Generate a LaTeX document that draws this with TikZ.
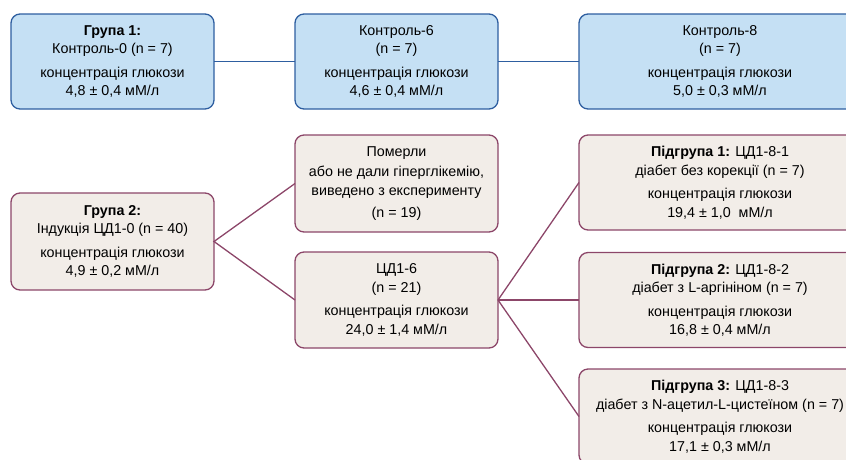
\documentclass[tikz,border=0pt]{standalone}
\usepackage{fontspec}
\setmainfont{Liberation Sans}
\definecolor{bluefill}{RGB}{197,224,244}
\definecolor{blueline}{RGB}{46,94,160}
\definecolor{beigefill}{RGB}{242,237,232}
\definecolor{redline}{RGB}{140,70,105}
\begin{document}
\begin{tikzpicture}[x=1pt,y=-1pt,
  box/.style={draw, rounded corners=9pt, line width=1.3pt, align=center, inner sep=0pt, outer sep=0pt,
    font=\fontsize{14.3}{18.5}\selectfont, minimum height=95pt},
  bluebox/.style={box, draw=blueline, fill=bluefill},
  beigebox/.style={box, draw=redline, fill=beigefill},
  bluelink/.style={line width=1.3pt, draw=blueline},
  redlink/.style={line width=1.3pt, draw=redline}]
\useasboundingbox (0,0) rectangle (846,459);
\clip (0,0) rectangle (846,459);
% row 1
\node[bluebox, minimum width=203pt] (g1) at (112.5,61.5) {\textbf{Група 1:}\\Контроль-0 (n = 7)\\[5pt]концентрація глюкози\\4,8 ± 0,4 мМ/л};
\node[bluebox, minimum width=203pt] (k6) at (396.5,61.5) {Контроль-6\\(n = 7)\\[5pt]концентрація глюкози\\4,6 ± 0,4 мМ/л};
\node[bluebox, minimum width=282pt] (k8) at (720,61.5) {Контроль-8\\(n = 7)\\[5pt]концентрація глюкози\\5,0 ± 0,3 мМ/л};
\draw[bluelink] (g1.east) -- (k6.west);
\draw[bluelink] (k6.east) -- (k8.west);
% group 2
\node[beigebox, minimum width=203pt, minimum height=97pt] (g2) at (112.5,241.5) {\textbf{Група 2:}\\Індукція ЦД1-0 (n = 40)\\[5pt]концентрація глюкози\\4,9 ± 0,2 мМ/л};
\node[beigebox, minimum width=203pt, minimum height=97pt] (pom) at (396.5,183.5) {Померли\\[1pt]або не дали гіперглікемію,\\[1pt]виведено з експерименту\\[3pt](n = 19)};
\node[beigebox, minimum width=203pt, minimum height=96pt] (cd) at (396.5,300) {ЦД1-6\\(n = 21)\\[5pt]концентрація глюкози\\24,0 ± 1,4 мМ/л};
\node[beigebox, minimum width=282pt] (s1) at (720,182.5) {\textbf{Підгрупа 1:} ЦД1-8-1\\діабет без корекції (n = 7)\\[5pt]концентрація глюкози\\19,4 ± 1,0 \ мМ/л};
\node[beigebox, minimum width=282pt] (s2) at (720,300) {\textbf{Підгрупа 2:} ЦД1-8-2\\діабет з L-аргініном (n = 7)\\[5pt]концентрація глюкози\\16,8 ± 0,4 мМ/л};
\node[beigebox, minimum width=282pt] (s3) at (720,416.5) {\textbf{Підгрупа 3:} ЦД1-8-3\\діабет з N-ацетил-L-цистеїном (n = 7)\\[5pt]концентрація глюкози\\17,1 ± 0,3 мМ/л};
\draw[redlink] (pom.west) -- (g2.east) -- (cd.west);
\draw[redlink] (cd.east) -- (s1.west);
\draw[redlink] (cd.east) -- (s2.west);
\draw[redlink] (cd.east) -- (s3.west);
\end{tikzpicture}
\end{document}
